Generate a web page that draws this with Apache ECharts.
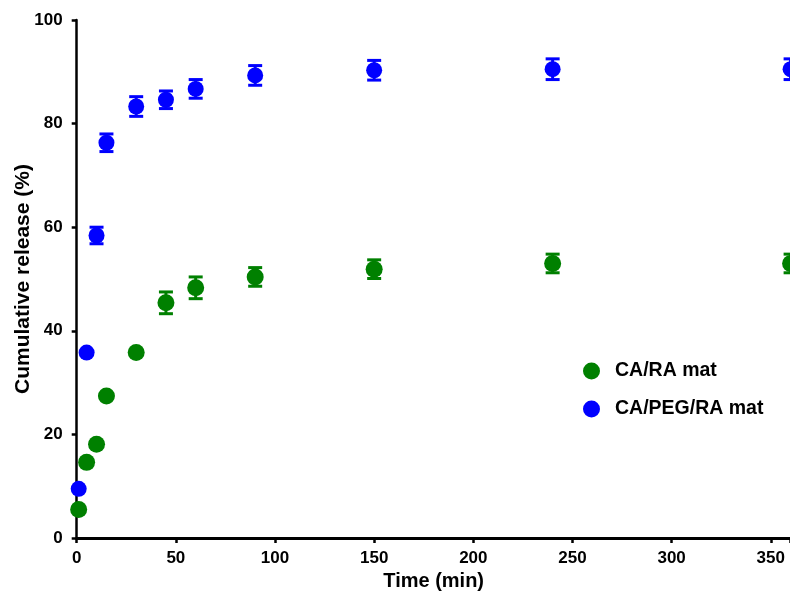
<!DOCTYPE html>
<html><head><meta charset="utf-8">
<script src="https://cdn.jsdelivr.net/npm/echarts@6/dist/echarts.min.js"></script>
<style>html,body{margin:0;padding:0;background:#fff}#c{width:790px;height:593px}</style>
</head><body><div id="c"></div>
<script>
const timeMin = [1, 5, 10, 15, 30, 45, 60, 90, 150, 240, 360];
const caRaMean = [5.5, 14.6, 18.1, 27.4, 35.8, 45.4, 48.3, 50.4, 51.9, 53.0, 53.0];
const caRaErr = [null, null, null, null, null, 2.1, 2.1, 1.8, 1.8, 1.8, 1.8];
const caPegRaMean = [9.5, 35.8, 58.4, 76.3, 83.3, 84.6, 86.7, 89.3, 90.3, 90.5, 90.5];
const caPegRaErr = [null, null, 1.6, 1.7, 1.9, 1.7, 1.8, 1.9, 1.9, 2.0, 2.0];
const xTicks = [0, 50, 100, 150, 200, 250, 300, 350];
const yTicks = [0, 20, 40, 60, 80, 100];
const seriesNames = ['CA/RA mat', 'CA/PEG/RA mat'];

const FONT = '"Liberation Sans", Arial, sans-serif';
const GREEN = '#008000', BLUE = '#0000ff';

function pts(means) { return timeMin.map((t, i) => [t, means[i]]); }
function errPts(means, errs) {
  return timeMin.map((t, i) => errs[i] == null ? null : [t, means[i], errs[i]]).filter(d => d);
}
function errSeries(means, errs, color) {
  return {
    type: 'custom', silent: true, z: 1,
    data: errPts(means, errs),
    renderItem: function (params, api) {
      const x = api.value(0), y = api.value(1), e = api.value(2);
      const top = api.coord([x, y + e]);
      const bot = api.coord([x, y - e]);
      const hw = 7;
      const st = { stroke: color, lineWidth: 3 };
      return { type: 'group', children: [
        { type: 'line', shape: { x1: top[0], y1: top[1], x2: bot[0], y2: bot[1] }, style: st },
        { type: 'line', shape: { x1: top[0] - hw, y1: top[1], x2: top[0] + hw, y2: top[1] }, style: st },
        { type: 'line', shape: { x1: bot[0] - hw, y1: bot[1], x2: bot[0] + hw, y2: bot[1] }, style: st }
      ]};
    }
  };
}

const chart = echarts.init(document.getElementById('c'), null, { renderer: 'canvas' });
chart.setOption({
  animation: false,
  backgroundColor: '#fff',
  textStyle: { fontFamily: FONT },
  grid: { left: 76.7, right: -0.6, top: 20, bottom: 55, containLabel: false, outerBoundsMode: 'none' },
  legend: {
    orient: 'vertical', left: 578, top: 356, itemGap: 18,
    itemWidth: 17, itemHeight: 17, icon: 'circle',
    data: seriesNames,
    textStyle: { fontFamily: FONT, fontWeight: 'bold', fontSize: 19.5, color: '#000', padding: [0, 0, 0, 10] }
  },
  xAxis: {
    type: 'value', min: 0, max: 360, interval: 50,
    name: 'Time (min)', nameLocation: 'middle', nameGap: 33, nameMoveOverlap: false,
    nameTextStyle: { fontFamily: FONT, fontWeight: 'bold', fontSize: 20, color: '#000' },
    axisLine: { onZero: false, lineStyle: { color: '#000', width: 3 } },
    axisTick: { show: true, length: 5, lineStyle: { color: '#000', width: 2.5 } },
    axisLabel: { margin: 12, fontFamily: FONT, fontWeight: 'bold', fontSize: 17, color: '#000',
      formatter: v => xTicks.includes(v) ? String(v) : '' },
    splitLine: { show: false }
  },
  yAxis: {
    type: 'value', min: 0, max: 100, interval: 20,
    name: 'Cumulative release (%)', nameLocation: 'middle', nameGap: 43, nameMoveOverlap: false,
    nameTextStyle: { fontFamily: FONT, fontWeight: 'bold', fontSize: 21, color: '#000' },
    axisLine: { show: true, onZero: false, lineStyle: { color: '#000', width: 2.5 } },
    axisTick: { show: true, length: 5, lineStyle: { color: '#000', width: 2.5 } },
    axisLabel: { margin: 14, fontFamily: FONT, fontWeight: 'bold', fontSize: 17, color: '#000',
      formatter: v => yTicks.includes(v) ? String(v) : '' },
    splitLine: { show: false }
  },
  series: [
    errSeries(caRaMean, caRaErr, GREEN),
    errSeries(caPegRaMean, caPegRaErr, BLUE),
    { name: seriesNames[0], type: 'scatter', symbol: 'circle', symbolSize: 17, z: 3,
      itemStyle: { color: GREEN, opacity: 1 }, data: pts(caRaMean) },
    { name: seriesNames[1], type: 'scatter', symbol: 'circle', symbolSize: 16, z: 3,
      itemStyle: { color: BLUE, opacity: 1 }, data: pts(caPegRaMean) }
  ]
});
</script></body></html>
